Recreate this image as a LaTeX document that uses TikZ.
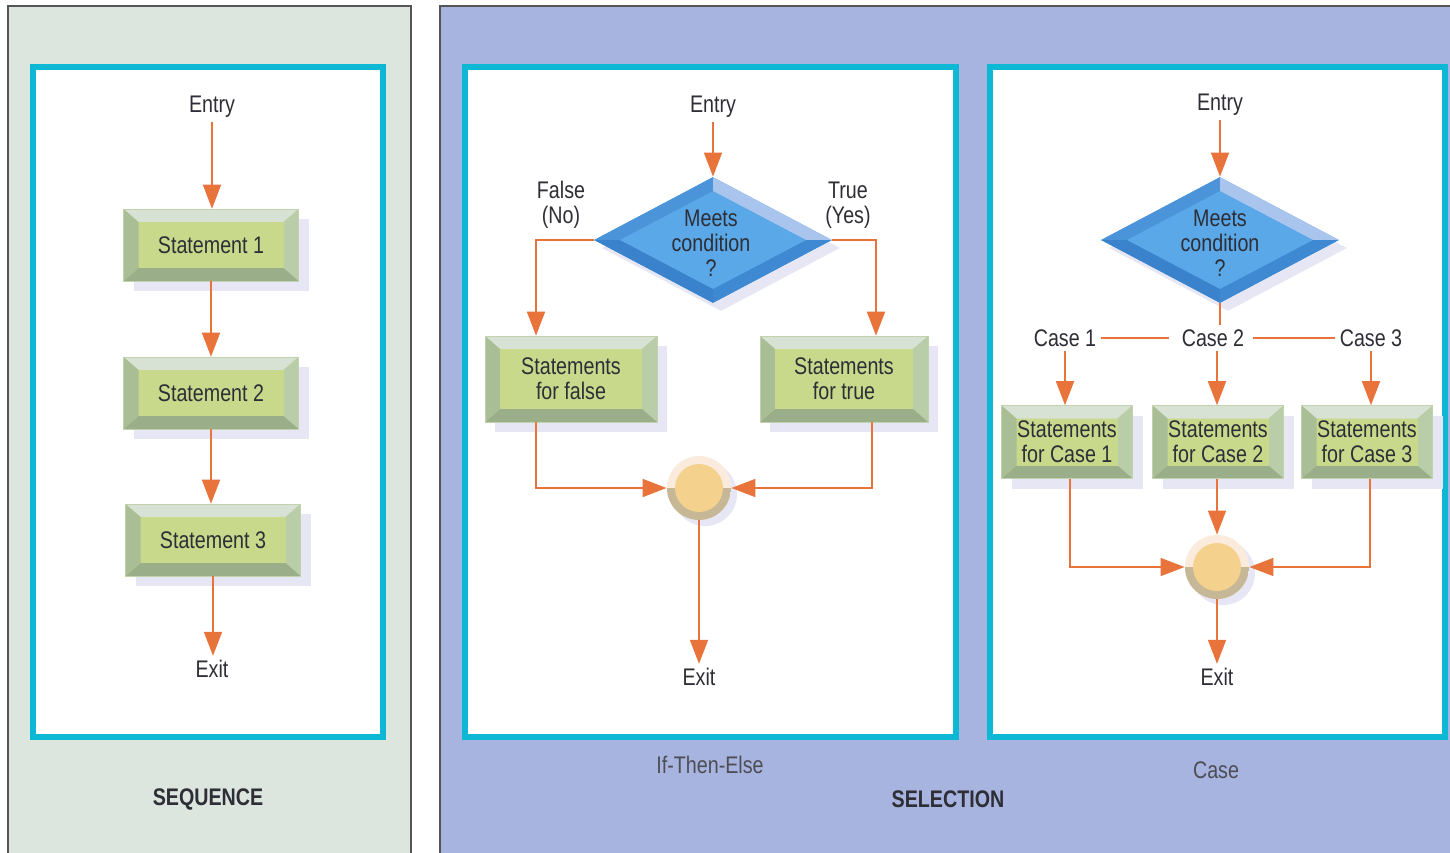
\documentclass[tikz,border=0pt]{standalone}
\usepackage{fontspec}
\setmainfont{Liberation Sans}[FakeStretch=0.82]
\usetikzlibrary{shapes.geometric,arrows.meta,shadows}
\definecolor{seqbg}{HTML}{DCE5DE}
\definecolor{selbg}{HTML}{A8B4E0}
\definecolor{panelline}{HTML}{555555}
\definecolor{cyanc}{HTML}{0DB8D4}
\definecolor{orangec}{HTML}{E8743C}
\definecolor{txt}{HTML}{2E2E36}
\definecolor{bevtop}{HTML}{D8E2D4}
\definecolor{bevleft}{HTML}{A9BE95}
\definecolor{bevright}{HTML}{B9CDA9}
\definecolor{bevbot}{HTML}{9AAE8A}
\definecolor{bevmid}{HTML}{C9D98C}
\definecolor{bevedge}{HTML}{C2D2AC}
\definecolor{shadowc}{HTML}{E6E6F5}
\definecolor{diaTL}{HTML}{4C94DA}
\definecolor{diaTR}{HTML}{A9C5EE}
\definecolor{diaBR}{HTML}{3E89D2}
\definecolor{diaBL}{HTML}{3A82CC}
\definecolor{diaIN}{HTML}{5AA8E7}
\definecolor{circtop}{HTML}{FBEBDD}
\definecolor{circbot}{HTML}{C6B896}
\definecolor{circin}{HTML}{F4D18C}
\tikzset{
  lbl/.style={font=\fontsize{12pt}{12.5pt}\selectfont, text=txt, inner sep=2pt, align=center},
  captext/.style={font=\fontsize{12pt}{12.5pt}\selectfont, text=txt!85, inner sep=2pt},
  captextb/.style={font=\fontsize{12pt}{12.5pt}\selectfont\bfseries, text=txt, inner sep=2pt},
  arr/.style={draw=orangec, line width=0.8pt, -{Triangle[length=12pt,width=9pt]}},
  conn/.style={draw=orangec, line width=0.8pt},
  panel/.style={draw=panelline, line width=1pt},
  cyanbox/.style={draw=cyanc, line width=2.6pt, fill=white},
  bevbox/.style={rectangle, inner sep=0pt, align=center, text=txt,
    font=\fontsize{12pt}{12.5pt}\selectfont,
    draw=bevedge, line width=0.3pt, fill=bevmid,
    drop shadow={shadow xshift=5pt, shadow yshift=-5pt, fill=shadowc, opacity=1},
    path picture={
      \coordinate (NW) at (path picture bounding box.north west);
      \coordinate (NE) at (path picture bounding box.north east);
      \coordinate (SW) at (path picture bounding box.south west);
      \coordinate (SE) at (path picture bounding box.south east);
      \coordinate (nw) at ([shift={(7.5pt,-6.5pt)}]NW);
      \coordinate (ne) at ([shift={(-7.5pt,-6.5pt)}]NE);
      \coordinate (sw) at ([shift={(7.5pt,6.5pt)}]SW);
      \coordinate (se) at ([shift={(-7.5pt,6.5pt)}]SE);
      \fill[bevtop] (NW) -- (NE) -- (ne) -- (nw) -- cycle;
      \fill[bevright] (NE) -- (SE) -- (se) -- (ne) -- cycle;
      \fill[bevbot] (SE) -- (SW) -- (sw) -- (se) -- cycle;
      \fill[bevleft] (SW) -- (NW) -- (nw) -- (sw) -- cycle;
      \fill[bevmid] (nw) -- (ne) -- (se) -- (sw) -- cycle;
    }},
  dia/.style={diamond, inner sep=0pt, minimum width=119pt, minimum height=63pt, fill=diaIN,
    drop shadow={shadow xshift=4pt, shadow yshift=-4pt, fill=shadowc, opacity=1},
    path picture={
      \coordinate (T) at (path picture bounding box.north);
      \coordinate (R) at (path picture bounding box.east);
      \coordinate (B) at (path picture bounding box.south);
      \coordinate (L) at (path picture bounding box.west);
      \coordinate (t) at ([yshift=-7pt]T);
      \coordinate (r) at ([xshift=-13pt]R);
      \coordinate (b) at ([yshift=7pt]B);
      \coordinate (l) at ([xshift=13pt]L);
      \fill[diaTL] (L) -- (T) -- (t) -- (l) -- cycle;
      \fill[diaTR] (T) -- (R) -- (r) -- (t) -- cycle;
      \fill[diaBR] (R) -- (B) -- (b) -- (r) -- cycle;
      \fill[diaBL] (B) -- (L) -- (l) -- (b) -- cycle;
      \fill[diaIN] (t) -- (r) -- (b) -- (l) -- cycle;
    }},
  merge/.style={circle, inner sep=0pt, minimum size=32pt, fill=circtop,
    drop shadow={shadow xshift=3pt, shadow yshift=-3pt, fill=shadowc, opacity=1},
    path picture={
      \fill[circbot] (path picture bounding box.west) rectangle (path picture bounding box.south east);
      \fill[circin] (path picture bounding box.center) circle[radius=12pt];
    }},
}
\begin{document}
\begin{tikzpicture}[x=0.5pt,y=-0.5pt]
\useasboundingbox (0,0) rectangle (1450,852);
\fill[white] (0,0) rectangle (1450,852);
\begin{scope}
\clip (0,0) rectangle (1450,852);
\draw[panel, fill=seqbg] (8,6) rectangle (411,880);
\draw[panel, fill=selbg] (440,6) rectangle (1480,880);
\end{scope}
\draw[cyanbox] (33,67) rectangle (383,737);
\draw[cyanbox] (465,67) rectangle (956,737);
\draw[cyanbox] (990,67) rectangle (1445,737);

% ---------- Sequence ----------
\node[lbl] (sEntry) at (212,107) {Entry};
\node[bevbox, minimum width=87.5pt, minimum height=36pt] (s1) at (211,245) {Statement 1};
\node[bevbox, minimum width=87.5pt, minimum height=36pt] (s2) at (211,393) {Statement 2};
\node[bevbox, minimum width=87.5pt, minimum height=36pt] (s3) at (213,540) {Statement 3};
\node[lbl] (sExit) at (212,669) {Exit};
\draw[arr] (sEntry) -- (sEntry |- s1.north);
\draw[arr] (s1) -- (s2);
\draw[arr] (s2.south) -- (s2.south |- s3.north);
\draw[arr] (s3) -- (s3 |- sExit.north);
\node[captextb] (seqcap) at (208,799) {SEQUENCE};

% ---------- If-Then-Else ----------
\node[lbl] (iEntry) at (713,107) {Entry};
\node[dia] (d1) at (713,240) {};
\node[lbl] (d1t) at (711,243) {Meets\\condition\\?};
\node[lbl] (fl) at (561,205) {False\\(No)};
\node[lbl] (tl) at (848,205) {True\\(Yes)};
\node[bevbox, minimum width=86pt, minimum height=43pt] (bf) at (571,379) {Statements\\for false};
\node[bevbox, minimum width=84pt, minimum height=43pt] (bt) at (844,379) {Statements\\for true};
\node[merge] (m1) at (699,488) {};
\node[lbl] (iExit) at (699,677) {Exit};
\draw[arr] (iEntry) -- (d1);
\draw[arr] (d1.west) -| ([xshift=-17.5pt]bf.north);
\draw[arr] (d1.east) -| ([xshift=16pt]bt.north);
\draw[arr] ([xshift=-17.5pt]bf.south) |- (m1.west);
\draw[arr] ([xshift=14pt]bt.south) |- (m1.east);
\draw[arr] (m1) -- (iExit);
\node[captext] (itecap) at (710,765) {If-Then-Else};

% ---------- Case ----------
\node[lbl] (cEntry) at (1220,105) {Entry};
\node[dia] (d2) at (1220,240) {};
\node[lbl] (d2t) at (1220,243) {Meets\\condition\\?};
\node[lbl] (c1) at (1065,338) {Case 1};
\node[lbl] (c2) at (1213,338) {Case 2};
\node[lbl] (c3) at (1371,338) {Case 3};
\node[bevbox, minimum width=65.5pt, minimum height=36.5pt] (b1) at (1067,442) {Statements\\for Case 1};
\node[bevbox, minimum width=65.5pt, minimum height=36.5pt] (b2) at (1218,442) {Statements\\for Case 2};
\node[bevbox, minimum width=65.5pt, minimum height=36.5pt] (b3) at (1367,442) {Statements\\for Case 3};
\node[merge] (m2) at (1217,567) {};
\node[lbl] (cExit) at (1217,677) {Exit};
\draw[arr] (cEntry) -- (d2);
\draw[conn] (d2.south) -- (c2.north -| d2.south);
\draw[conn] (c1.east) -- ([xshift=-4pt]c2.west);
\draw[conn] ([xshift=2pt]c2.east) -- (c3.west);
\draw[arr] (c1.south) -- (c1.south |- b1.north);
\draw[arr] ([xshift=2pt]c2.south) -- ([xshift=2pt]c2.south |- b2.north);
\draw[arr] (c3.south) -- (c3.south |- b3.north);
\draw[arr] ([xshift=1.5pt]b1.south) |- (m2.west);
\draw[arr] ([xshift=1.5pt]b3.south) |- (m2.east);
\draw[arr] (b2.south -| m2.north) -- (m2.north);
\draw[arr] (m2) -- (cExit);
\node[captext] (casecap) at (1216,770) {Case};
\node[captextb] (selcap) at (948,799) {SELECTION};
\end{tikzpicture}
\end{document}
